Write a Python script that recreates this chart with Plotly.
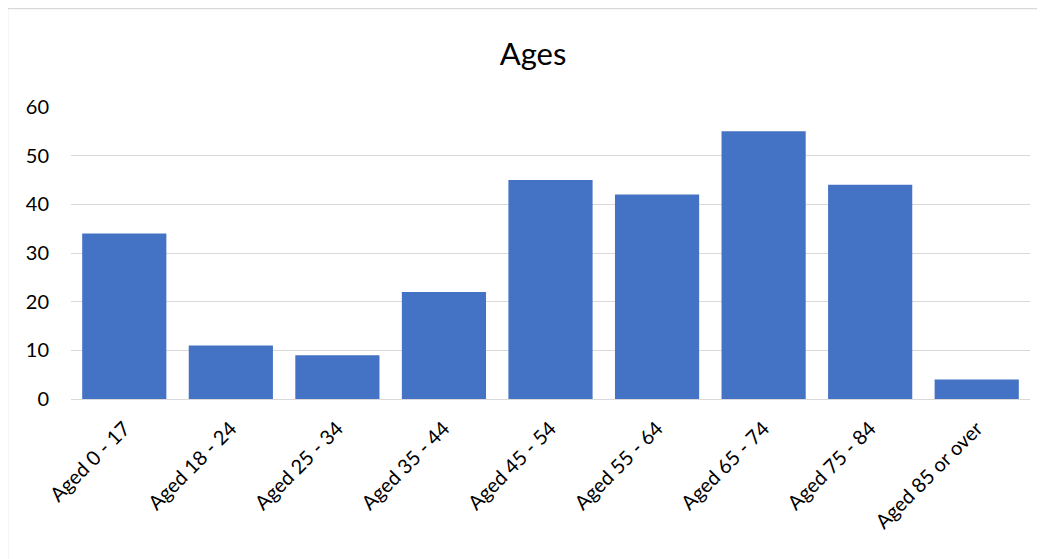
import plotly.graph_objects as go

categories = ["Aged 0 - 17", "Aged 18 - 24", "Aged 25 - 34", "Aged 35 - 44", "Aged 45 - 54",
              "Aged 55 - 64", "Aged 65 - 74", "Aged 75 - 84", "Aged 85 or over"]
values = [34, 11, 9, 22, 45, 42, 55, 44, 4]
y_ticks = [0, 10, 20, 30, 40, 50, 60]

FONT = "Lato"
OFF = 8  # page body margin
W, H = 1045 - OFF, 559 - OFF
# target plot area in window pixels: x 71..1030, y 107..399
L = 71 - OFF
T = 107 - OFF
R = W - (1030 - OFF)
B = H - (399 - OFF)
pw, ph = W - L - R, H - T - B

fig = go.Figure(go.Bar(x=categories, y=values, marker=dict(color="#4472C4", line=dict(width=0))))

def px_to_paper_x(px):
    return (px - OFF - L) / pw

def px_to_paper_y(py):
    return (399 - py) / ph

fig.update_layout(
    width=W, height=H,
    margin=dict(l=L, r=R, t=T, b=B),
    paper_bgcolor="white", plot_bgcolor="white",
    bargap=0.21,
    showlegend=False,
    font=dict(family=FONT, color="#000000", size=20),
    title=dict(text="Ages", x=(533 - OFF) / W, xanchor="center", y=1 - (54 - OFF) / H, yanchor="middle",
               font=dict(family=FONT, size=31, color="#000000")),
    xaxis=dict(tickangle=-45, showgrid=False, showline=True, linecolor="#d9d9d9", linewidth=1,
               ticks="", tickfont=dict(size=20), ticklabelstandoff=9),
    yaxis=dict(range=[0, 60], tickvals=y_ticks, showgrid=True, gridcolor="#d9d9d9", gridwidth=1,
               zeroline=False, showline=False, ticks="", tickfont=dict(size=20), ticklabelstandoff=21),
    shapes=[dict(type="rect", xref="paper", yref="paper",
                 x0=px_to_paper_x(7.5), x1=px_to_paper_x(1070),
                 y0=px_to_paper_y(600), y1=px_to_paper_y(8.5),
                 line=dict(color="#d9d9d9", width=1.5), fillcolor="rgba(0,0,0,0)", layer="below")],
)

fig.write_html("out.html")
